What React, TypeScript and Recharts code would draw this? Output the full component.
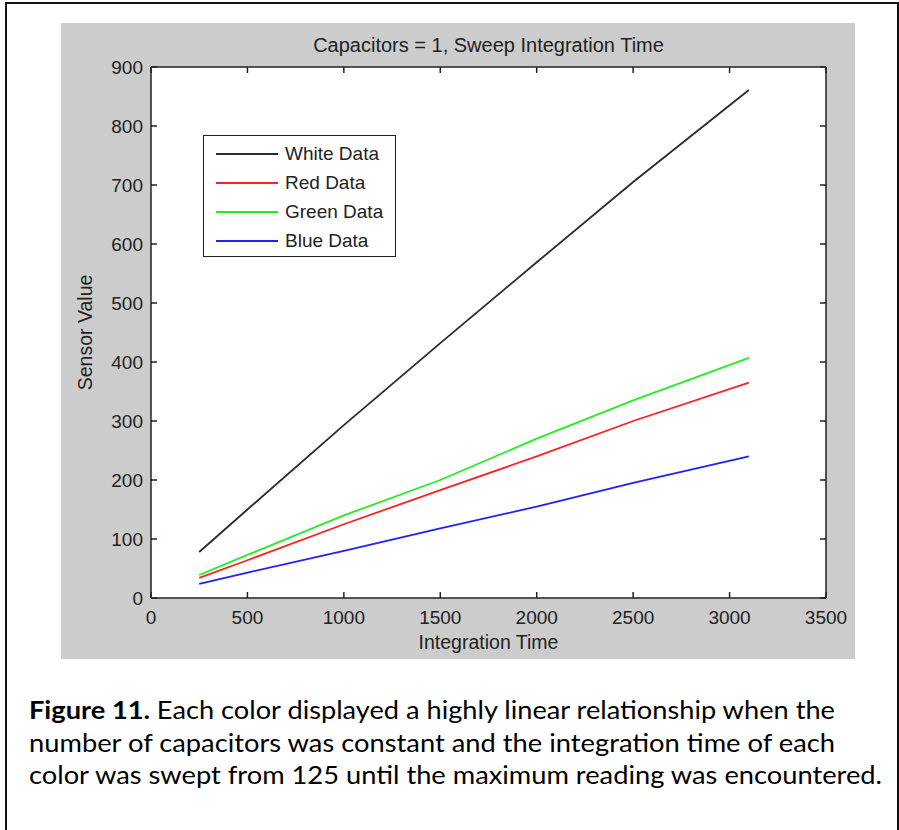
import { LineChart, Line, XAxis, YAxis, CartesianGrid, Legend } from "recharts";

const times = [250, 500, 1000, 1500, 2000, 2500, 3100];
const whiteData = [78, 150, 293, 432, 569, 705, 861];
const redData = [34, 64, 125, 183, 240, 300, 365];
const greenData = [39, 73, 140, 200, 270, 335, 407];
const blueData = [24, 43, 80, 118, 155, 195, 240];

const xTicks = [0, 500, 1000, 1500, 2000, 2500, 3000, 3500];
const yTicks = [0, 100, 200, 300, 400, 500, 600, 700, 800, 900];

const series = [
  { key: "white", name: "White Data", color: "#2b2b2b" },
  { key: "red", name: "Red Data", color: "#ff2020" },
  { key: "green", name: "Green Data", color: "#22ee22" },
  { key: "blue", name: "Blue Data", color: "#2020ff" },
];

const rows = times.map((t, i) => ({
  t,
  white: whiteData[i],
  red: redData[i],
  green: greenData[i],
  blue: blueData[i],
}));

const FONT = "'Liberation Sans', Arial, sans-serif";
const INK = "#222";
const TICK = 6;

function BottomTick(props: any) {
  const { x, y, payload } = props;
  return (
    <g>
      <line x1={x} y1={y} x2={x} y2={y - TICK} stroke={INK} strokeWidth={1.5} />
      <text x={x} y={y + 19} textAnchor="middle" dominantBaseline="central" fontSize={19} fontFamily={FONT} fill={INK}>
        {payload.value}
      </text>
    </g>
  );
}

function LeftTick(props: any) {
  const { x, y, payload } = props;
  return (
    <g>
      <line x1={x} y1={y} x2={x + TICK} y2={y} stroke={INK} strokeWidth={1.5} />
      <text x={x - 8} y={y} textAnchor="end" dominantBaseline="central" fontSize={19} fontFamily={FONT} fill={INK}>
        {payload.value}
      </text>
    </g>
  );
}

function TopTick(props: any) {
  const { x, y } = props;
  return <line x1={x} y1={y} x2={x} y2={y + TICK} stroke={INK} strokeWidth={1.5} />;
}

function RightTick(props: any) {
  const { x, y } = props;
  return <line x1={x} y1={y} x2={x - TICK} y2={y} stroke={INK} strokeWidth={1.5} />;
}

function LegendBox() {
  return (
    <div
      style={{
        width: 191,
        height: 120,
        border: "1.5px solid #222",
        background: "#fff",
        fontFamily: FONT,
        fontSize: 19,
        color: INK,
        position: "relative",
      }}
    >
      {series.map((s, i) => (
        <div key={s.key} style={{ position: "absolute", left: 0, top: 18 + i * 29 - 12, height: 24, display: "flex", alignItems: "center" }}>
          <div style={{ marginLeft: 12, width: 62, height: 2, background: s.color }} />
          <span style={{ marginLeft: 7, lineHeight: "24px" }}>{s.name}</span>
        </div>
      ))}
    </div>
  );
}

export default function App() {
  return (
    <div style={{ position: "absolute", left: 0, top: 0, width: 899, height: 830, background: "#fff", overflow: "hidden" }}>
      <div
        style={{
          position: "absolute",
          left: 5,
          top: 2,
          width: 890,
          height: 900,
          borderLeft: "2px solid #111",
          borderTop: "2px solid #111",
          borderRight: "2px solid #111",
        }}
      />
      <div style={{ position: "absolute", left: 61, top: 23, width: 794, height: 636, background: "#cccccc" }}>
        <LineChart width={794} height={636} data={rows} margin={{ top: 43, right: 28, bottom: 60, left: 89 }}>
          <CartesianGrid fill="#fff" horizontal={false} vertical={false} />
          <XAxis
            dataKey="t"
            type="number"
            domain={[0, 3500]}
            ticks={xTicks}
            allowDataOverflow
            height={1}
            tickSize={0}
            tickMargin={0}
            tick={<BottomTick />}
            axisLine={{ stroke: INK, strokeWidth: 1.5 }}
            label={(p: any) => {
              const vb = p.viewBox;
              return (
                <text x={vb.x + vb.width / 2} y={vb.y + 44} textAnchor="middle" dominantBaseline="central" fontSize={19.5} fontFamily={FONT} fill={INK}>
                  Integration Time
                </text>
              );
            }}
          />
          <XAxis
            xAxisId="top"
            dataKey="t"
            orientation="top"
            type="number"
            domain={[0, 3500]}
            ticks={xTicks}
            allowDataOverflow
            height={1}
            tickSize={0}
            tickMargin={0}
            tick={<TopTick />}
            axisLine={{ stroke: INK, strokeWidth: 1.5 }}
            label={(p: any) => {
              const vb = p.viewBox;
              return (
                <text x={vb.x + vb.width / 2} y={vb.y + vb.height - 22} textAnchor="middle" dominantBaseline="central" fontSize={20} fontFamily={FONT} fill={INK}>
                  Capacitors = 1, Sweep Integration Time
                </text>
              );
            }}
          />
          <YAxis
            type="number"
            domain={[0, 900]}
            ticks={yTicks}
            allowDataOverflow
            width={1}
            tickSize={0}
            tickMargin={0}
            tick={<LeftTick />}
            axisLine={{ stroke: INK, strokeWidth: 1.5 }}
            label={(p: any) => {
              const vb = p.viewBox;
              const cx = vb.x + vb.width - 66;
              const cy = vb.y + vb.height / 2;
              return (
                <text x={cx} y={cy} transform={`rotate(-90 ${cx} ${cy})`} textAnchor="middle" dominantBaseline="central" fontSize={19.5} fontFamily={FONT} fill={INK}>
                  Sensor Value
                </text>
              );
            }}
          />
          <YAxis
            yAxisId="right"
            orientation="right"
            type="number"
            domain={[0, 900]}
            ticks={yTicks}
            allowDataOverflow
            width={1}
            tickSize={0}
            tickMargin={0}
            tick={<RightTick />}
            axisLine={{ stroke: INK, strokeWidth: 1.5 }}
          />
          {series.map((s) => (
            <Line
              key={s.key}
              dataKey={s.key}
              name={s.name}
              stroke={s.color}
              strokeWidth={1.8}
              dot={false}
              type="linear"
              isAnimationActive={false}
            />
          ))}
          <Legend
            layout="vertical"
            align="center"
            verticalAlign="middle"
            content={() => <LegendBox />}
            wrapperStyle={{ left: 142, top: 112, width: 194, height: 123 }}
          />
        </LineChart>
      </div>
      <svg style={{ position: "absolute", left: 0, top: 680 }} width={899} height={150}>
        <g fontFamily="Lato, 'Open Sans', sans-serif" fontSize={25} fill="#000">
          <text x={29} y={39} textLength={806} lengthAdjust="spacingAndGlyphs">
            <tspan fontWeight="bold">Figure 11.</tspan> Each color displayed a highly linear relationship when the
          </text>
          <text x={29} y={72} textLength={806} lengthAdjust="spacingAndGlyphs">
            number of capacitors was constant and the integration time of each
          </text>
          <text x={29} y={104} textLength={853} lengthAdjust="spacingAndGlyphs">
            color was swept from 125 until the maximum reading was encountered.
          </text>
        </g>
      </svg>
    </div>
  );
}
